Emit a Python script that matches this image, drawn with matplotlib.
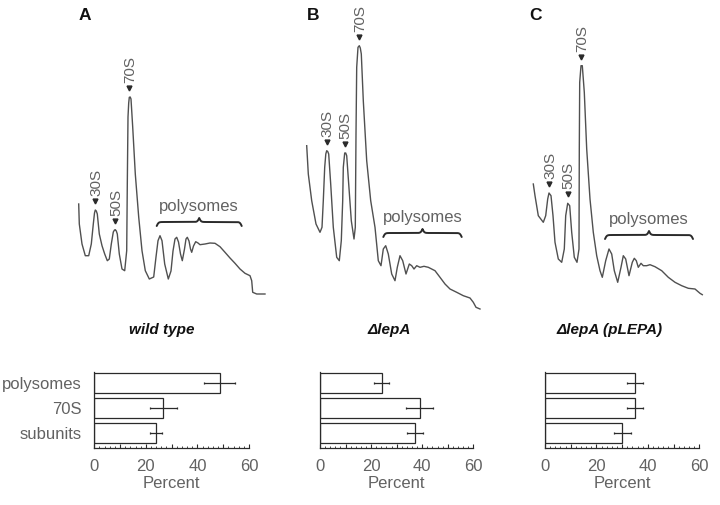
import numpy as np
import matplotlib
matplotlib.use("Agg")
import matplotlib.pyplot as plt
from matplotlib.ticker import MultipleLocator, FixedLocator, FixedFormatter

plt.rcParams['font.family'] = ['Liberation Sans', 'DejaVu Sans']

# ---------------- data ----------------
panel_letters = ["A", "B", "C"]
strains = ["wild type", "\u0394lepA", "\u0394lepA (pLEPA)"]
categories = ["polysomes", "70S", "subunits"]

pct_wt = [48.6, 26.7, 23.9]
err_wt = [6.0, 5.2, 2.3]
pct_dlepA = [24.1, 39.1, 37.2]
err_dlepA = [3.0, 5.3, 3.1]
pct_plepa = [35.0, 35.0, 30.1]
err_plepa = [3.1, 3.0, 3.2]

x_tick_values = [0, 10, 20, 30, 40, 50, 60]
x_tick_labels = ["0", "", "20", "", "40", "", "60"]
x_label = "Percent"

# sucrose-gradient profiles (position along gradient, absorbance; arbitrary units)
pos_wt = [8.7, 9.3, 12, 15.3, 18.7, 21.3, 23.3, 24.5, 25.3, 26.3, 27.3, 29.3, 32, 34.7, 37.3, 39.3, 41.3,
          43.3, 44.5, 45.3, 46.3, 47.3, 49.3, 52, 54.7, 56.7, 57.3, 58, 58.7, 59.3, 60.2, 61, 62.7, 65.3, 68.7, 72,
          75.3, 79.3, 83.7, 86, 88, 90, 92, 94.7, 98.3, 101, 103, 105, 106.7, 108.5, 110.5,
          112.3, 114.5, 116, 117.3, 119, 120.5, 121.7, 123.5, 125.7, 128, 130, 135, 140, 145,
          150, 155, 160, 165, 170, 175, 180, 181.7, 182.7, 186.7, 195]
abs_wt = [105, 85, 65, 53.3, 53.3, 65, 85, 96, 99, 98, 95, 75, 63.3, 55, 48.3, 50, 65,
          77, 79, 79.3, 78, 75, 55, 40, 38.3, 58.3, 125, 192, 206, 211.7, 212, 210, 182, 135, 92, 58.3,
          38.3, 30, 32, 52, 68.3, 73.3, 68.3, 45, 30, 38, 58, 70, 71.7, 67, 55,
          48.3, 60, 70, 71.7, 68, 60, 56.7, 63, 67.3, 66, 64.3, 65, 66, 65.7,
          62.3, 56.7, 51, 45.7, 40, 35.7, 33.3, 28.3, 16.7, 15, 15]

pos_dlepA = [6.7, 8.3, 11.7, 16, 20, 22, 23.3, 24.7, 25.8, 26.7, 27.7, 28.7, 30.7, 33.3, 36.7, 39.3, 41.3,
             42.7, 43.3, 44.7, 45.7, 46.7, 48.7, 51.3, 54, 55.3, 56, 56.7, 58, 59.3, 60.3, 61.3, 63.3, 66.7,
             70.7, 75, 78.3, 81, 83.3, 85.7, 88.3, 91.7, 95, 97.3, 100, 102.7, 106, 109.3, 111.7,
             114, 116.7, 120, 124, 128.3, 135, 140, 145, 150, 156.7, 163.3, 170, 173.3, 176, 180]
abs_dlepA = [163.3, 135, 108.3, 85, 76.7, 81.7, 108.3, 141.7, 155, 158.3, 157.5, 155, 125, 81.7, 51.7, 48.3, 68.3,
             108.3, 141.7, 156, 156, 153.3, 125, 88.3, 70, 81.7, 175, 241.7, 261.7, 263.3, 261, 255, 208.3, 148.3,
             108.3, 81.7, 48.3, 43.3, 60, 63.3, 55, 35, 28.3, 41.7, 53.3, 48.3, 35, 45, 43.3,
             40, 43.3, 41.7, 42.7, 41.7, 38.3, 31.7, 25, 20, 16.7, 13.3, 11, 6.7, 1.7, 0]

pos_plepa = [8.3, 10, 13.3, 18.3, 20.7, 22.7, 24, 26, 28, 30, 33.3, 36.7, 39.3, 40.7, 42.7,
             44.7, 46.7, 49.3, 52, 54, 54.3, 54.7, 56, 57.3, 59.3, 61.7, 65, 68.3, 71.7, 75,
             77.3, 80.7, 84, 86.7, 89.3, 92.7, 96, 98.3, 100.7, 104, 107.3, 109.3, 111.3, 113.3,
             116, 118.3, 121.7, 125, 130, 136.7, 143.3, 150, 156.7, 163.3, 170, 175, 177.3]
abs_plepa = [125, 113.3, 93.3, 86.7, 93.3, 110, 116, 113.3, 93.3, 66.7, 50, 46.7, 60, 93.3, 105.7,
             103.3, 76.7, 51.7, 46.7, 60, 160, 226.7, 243.3, 243.3, 216.7, 160, 110, 76.7, 53.3, 38.3,
             31.7, 48.3, 60, 55, 38.3, 26.7, 41.7, 53.3, 50, 33.3, 46.7, 50.7, 48.3, 41.7,
             45.7, 43.3, 43.3, 44.3, 42.3, 38.3, 31.7, 26.7, 23.3, 20.7, 20, 15.7, 14.3]

peak_names = ["30S", "50S", "70S"]
peaks_wt = [25.3, 45.3, 59.3]
peaks_dlepA = [26.7, 44.7, 59.3]
peaks_plepa = [24, 42.7, 56]

poly_span_wt = (86.7, 171.7)
poly_span_dlepA = (83.3, 161.7)
poly_span_plepa = (80, 168)
poly_base_wt = 83
poly_base_dlepA = 72
poly_base_plepa = 70

# ---------------- figure ----------------
W, H = 720, 506
fig = plt.figure(figsize=(W / 100, H / 100), dpi=100)
fig.patch.set_facecolor("white")

TXT = "#626262"
LINE = "#505050"
DARK = "#2a2a2a"


def px_axes(x0, top, w, h):
    return fig.add_axes([x0 / W, 1 - (top + h) / H, w / W, h / H])


def brace(ax, x0, x1, base, height=8.0):
    xs = np.linspace(x0, x1, 401)
    half = xs[:201]
    beta = 1.1
    yh = 1 / (1 + np.exp(-beta * (half - half[0]))) + 1 / (1 + np.exp(-beta * (half - half[-1])))
    ys = np.concatenate((yh, yh[-2::-1]))
    ys = base + (ys - 0.5) * height
    ax.plot(xs, ys, color=DARK, lw=1.4, clip_on=False, solid_capstyle="round")


trace_specs = [
    (70, 220, pos_wt, abs_wt, peaks_wt, poly_span_wt, poly_base_wt),
    (300, 200, pos_dlepA, abs_dlepA, peaks_dlepA, poly_span_dlepA, poly_base_dlepA),
    (525, 190, pos_plepa, abs_plepa, peaks_plepa, poly_span_plepa, poly_base_plepa),
]

for (x0, w, pos, ab, peaks, span, base) in trace_specs:
    ax = px_axes(x0, 0, w, 310)
    ax.set_xlim(0, w)
    ax.set_ylim(0, 310)
    ax.axis("off")
    pos_a = np.array(pos)
    ab_a = np.array(ab)
    ax.plot(pos_a, ab_a, color=LINE, lw=1.0, clip_on=False, solid_joinstyle="round")
    for name, p in zip(peak_names, peaks):
        i = int(np.argmin(np.abs(pos_a - p)))
        px, py = pos_a[i], ab_a[i]
        ax.plot([px], [py + 9], marker="v", ms=3.5, color=DARK, clip_on=False)
        ax.text(px + 1, py + 15, name, rotation=90, ha="center", va="bottom",
                fontsize=11, color=TXT, clip_on=False)
    brace(ax, span[0], span[1], base)
    ax.text((span[0] + span[1]) / 2, base + 20, "polysomes", ha="center", va="center",
            fontsize=12, color=TXT)

# panel letters and strain titles
for letter, lx in zip(panel_letters, [85, 313, 535]):
    fig.text(lx / W, 1 - 15 / H, letter, ha="center", va="center",
             fontsize=12.5, fontweight="bold", color="#111111")
for name, tx in zip(strains, [162, 389, 610]):
    fig.text(tx / W, 1 - 330 / H, name, ha="center", va="center",
             fontsize=11, fontweight="bold", fontstyle="italic", color="#111111")

# bar charts
bar_specs = [
    (94.3, 154.7, pct_wt, err_wt, True),
    (320, 153.3, pct_dlepA, err_dlepA, False),
    (545, 154.3, pct_plepa, err_plepa, False),
]
ypos = np.arange(len(categories))
for (x0, w, vals, errs, show_cats) in bar_specs:
    ax = px_axes(x0, 373, w, 76)
    ax.barh(ypos, vals, height=0.8, xerr=errs, color="white", edgecolor=DARK, lw=0.9,
            error_kw=dict(ecolor=DARK, elinewidth=0.9, capsize=1.0, capthick=0.9))
    ax.set_xlim(0, 60)
    ax.set_ylim(2.62, -0.42)
    for s in ["top", "right"]:
        ax.spines[s].set_visible(False)
    for s in ["left", "bottom"]:
        ax.spines[s].set_color(DARK)
        ax.spines[s].set_linewidth(0.9)
    ax.xaxis.set_major_locator(FixedLocator(x_tick_values))
    ax.xaxis.set_major_formatter(FixedFormatter(x_tick_labels))
    ax.xaxis.set_minor_locator(MultipleLocator(2))
    ax.tick_params(axis="x", which="major", direction="in", length=3, width=0.8,
                   color=DARK, labelsize=12, labelcolor=TXT, pad=7)
    ax.tick_params(axis="x", which="minor", direction="in", length=1.5, width=0.6, color=DARK)
    ax.set_yticks(ypos)
    if show_cats:
        ax.set_yticklabels(categories)
    else:
        ax.set_yticklabels([])
    ax.tick_params(axis="y", length=0, labelsize=12, labelcolor=TXT, pad=9)
    ax.set_xlabel(x_label, fontsize=12, color=TXT, labelpad=2)
    ax.patch.set_alpha(0)

fig.savefig("out.png", dpi=100, facecolor="white")
